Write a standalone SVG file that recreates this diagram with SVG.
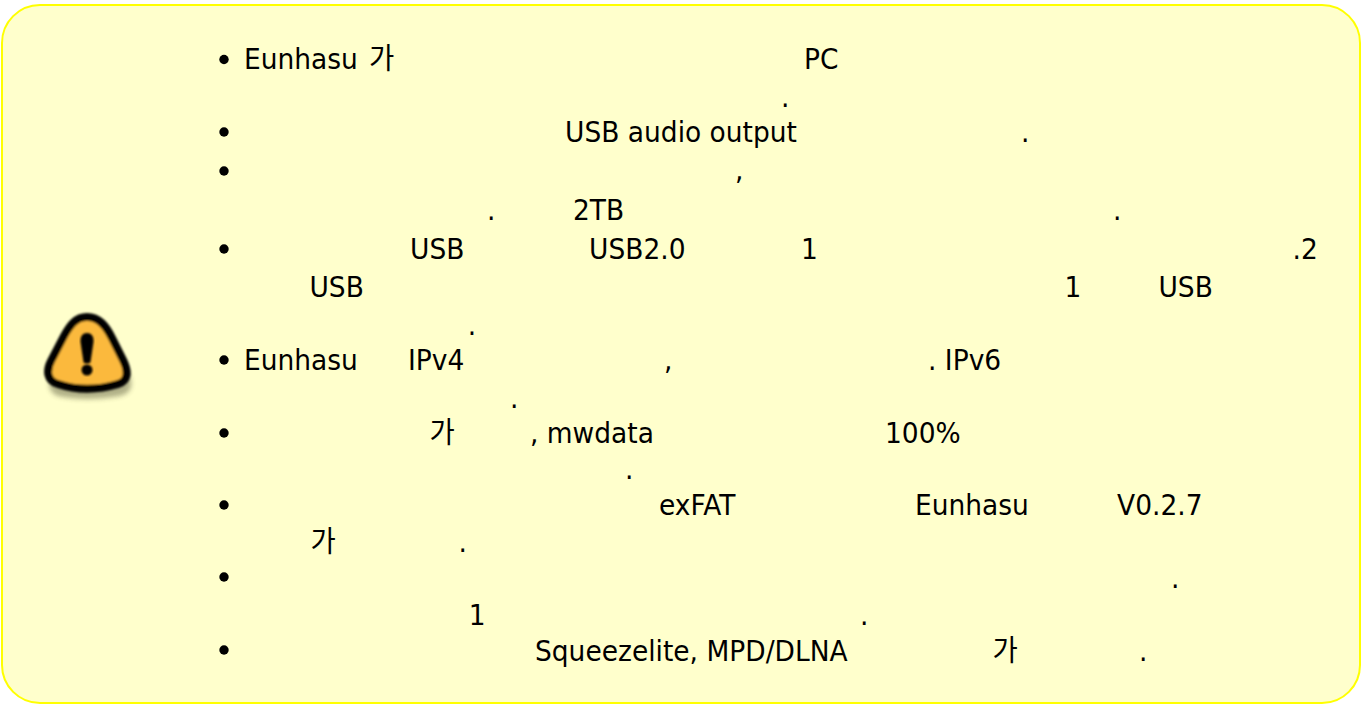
<svg xmlns="http://www.w3.org/2000/svg" width="1362" height="704" viewBox="0 0 1362 704">
<defs>
<style>
text{font-family:"DejaVu Sans","Noto Sans CJK KR",sans-serif;font-size:28px;fill:#000}
.k{font-family:"Noto Sans CJK KR",sans-serif;font-weight:400;font-size:29px}
</style>
<filter id="b" x="-10%" y="-10%" width="120%" height="120%"><feGaussianBlur stdDeviation="0.8"/></filter>
<filter id="s" x="-20%" y="-20%" width="140%" height="140%"><feGaussianBlur stdDeviation="2.500"/></filter>
</defs>
<rect x="2" y="5" width="1358" height="698" rx="38" ry="38" fill="#ffffcc" stroke="#ffff00" stroke-width="2"/>
<g id="icon">
<path d="M62 378L128 372C134 384 132 393 120 396C98 400 76 400 58 396C50 393 48 386 50 380Z" fill="#3c3c20" opacity=".4" filter="url(#s)"/>
<path d="M87 317C99 317 106 326 112 338L123 360C129 372 128 381 118 384C98 390 76 390 58 384C47 381 46 371 51 361L64 336C70 325 76 317 87 317Z" fill="#fbb93e" stroke="#000" stroke-width="8" stroke-linejoin="round" filter="url(#b)"/>
<path d="M87 333C91 333 94 336 93.500 342L90.500 362C90 364 84 364 83.500 362L80.500 342C80 336 83 333 87 333Z" fill="#000" filter="url(#b)"/>
<circle cx="87" cy="370" r="5.500" fill="#000" filter="url(#b)"/>
</g>
<g id="bullets" fill="#000">
<circle cx="224" cy="59.500" r="4.700"/><circle cx="224" cy="132" r="4.700"/><circle cx="224" cy="171" r="4.700"/><circle cx="224" cy="249" r="4.700"/><circle cx="224" cy="360" r="4.700"/><circle cx="224" cy="433" r="4.700"/><circle cx="224" cy="505" r="4.700"/><circle cx="224" cy="577" r="4.700"/><circle cx="224" cy="650" r="4.700"/>
</g>
<g id="list" transform="scale(.9464 1)">
<text x="257.800" y="69">Eunhasu</text><text x="389.900" y="69" class="k">가</text><text x="849.500" y="69">PC</text>
<text x="825.200" y="107">.</text>
<text x="597" y="142">USB audio output</text><text x="1078.800" y="142">.</text>
<text x="776.600" y="180">,</text>
<text x="514.600" y="220">.</text><text x="605.400" y="220">2TB</text><text x="1176" y="220">.</text>
<text x="433.300" y="259">USB</text><text x="622.400" y="259">USB2.0</text><text x="846.400" y="259">1</text><text x="1365.700" y="259">.2</text>
<text x="327" y="297">USB</text><text x="1124.800" y="297">1</text><text x="1224.100" y="297">USB</text>
<text x="494.300" y="335">.</text>
<text x="257.800" y="370">Eunhasu</text><text x="431.100" y="370">IPv4</text><text x="701.600" y="370">,</text><text x="980.600" y="370">. IPv6</text>
<text x="538.900" y="408">.</text>
<text x="453.800" y="443" class="k">가</text><text x="560" y="443">, mwdata</text><text x="935.100" y="443">100%</text>
<text x="660.400" y="479">.</text>
<text x="696.300" y="515">exFAT</text><text x="966.800" y="515">Eunhasu</text><text x="1180.300" y="515">V0.2.7</text>
<text x="328.100" y="552" class="k">가</text><text x="484.500" y="552">.</text>
<text x="1237.300" y="588">.</text>
<text x="495.400" y="625">1</text><text x="908.700" y="625">.</text>
<text x="565.300" y="661">Squeezelite, MPD/DLNA</text><text x="1048.700" y="661" class="k">가</text><text x="1203.500" y="661">.</text>
</g>
</svg>
